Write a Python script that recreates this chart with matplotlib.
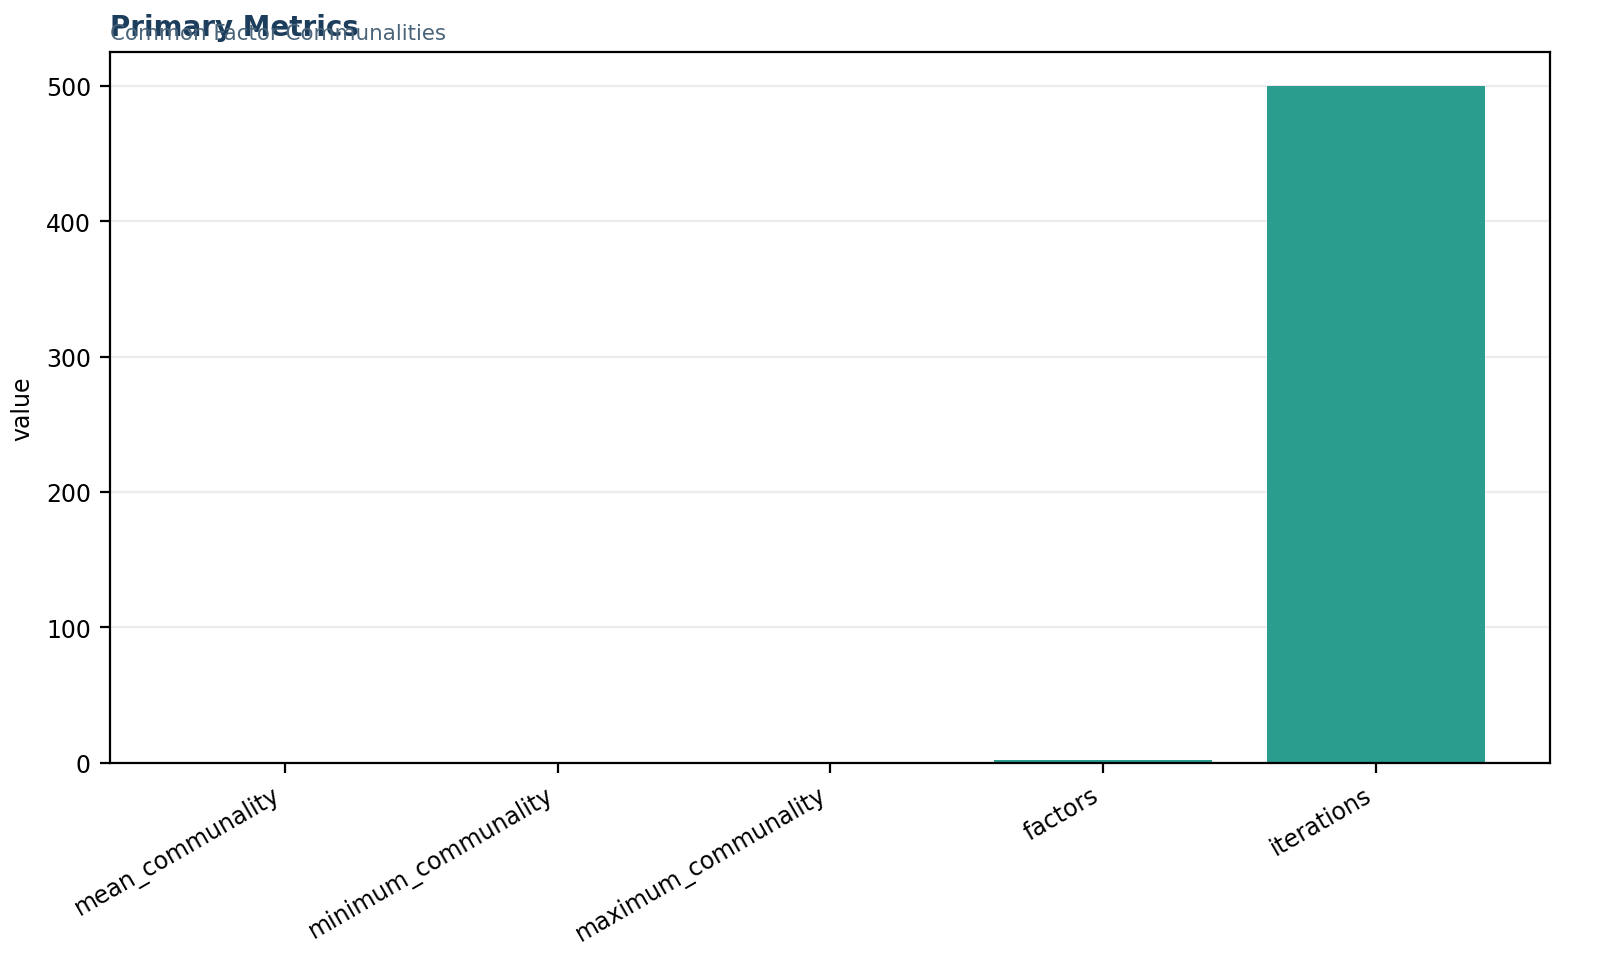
import matplotlib
matplotlib.use("Agg")
import matplotlib.pyplot as plt

metrics = ["mean_communality", "minimum_communality", "maximum_communality", "factors", "iterations"]
values = [0.55, 0.2, 0.95, 2, 500]

fig, ax = plt.subplots(figsize=(8, 4.89), dpi=200)
fig.subplots_adjust(left=0.069, right=0.969, top=0.946, bottom=0.219)

ax.bar(range(len(metrics)), values, width=0.8, color="#2a9d8f")
ax.set_xticks(range(len(metrics)))
ax.set_xticklabels(metrics, rotation=30, ha="right", fontsize=8.5)
ax.tick_params(axis="y", labelsize=8.5)
ax.set_ylabel("value", fontsize=8.5)
ax.set_xlim(-0.64, 4.64)
ax.grid(axis="y", color="#ececec", linewidth=0.8)
ax.set_axisbelow(True)

fig.text(0.069, 0.971, "Primary Metrics", fontsize=10, fontweight="bold",
         color="#1d3d5c", ha="left", va="center")
fig.text(0.069, 0.965, "Common Factor Communalities", fontsize=7.7,
         color="#4a6479", ha="left", va="center")

fig.savefig("out.png", dpi=200)
